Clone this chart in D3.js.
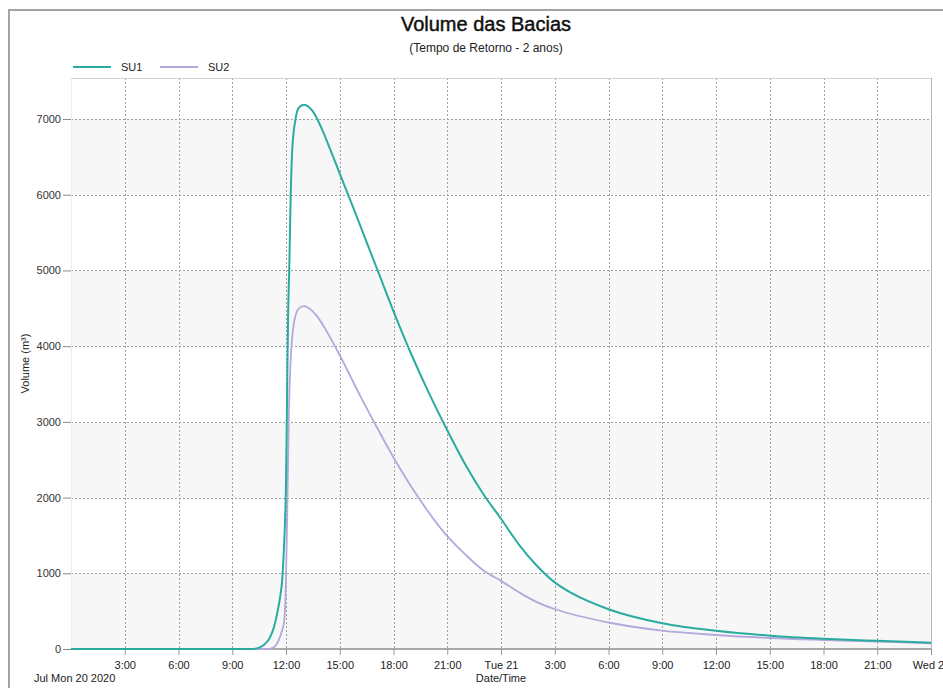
<!DOCTYPE html>
<html>
<head>
<meta charset="utf-8">
<script src="https://cdn.jsdelivr.net/npm/d3@7.9.0/dist/d3.min.js"></script>
<style>
  html, body { margin: 0; padding: 0; background: #fff; overflow: hidden; }
  svg { display: block; font-family: "Liberation Sans", Arial, sans-serif; }
</style>
</head>
<body>
<svg id="chart" width="943" height="688"></svg>
<script>
// hours since Mon 20 Jul 2020 00:00 -> volume (m3)
const su1 = [
  [0, 0], [10.0, 0], [10.3, 5], [10.6, 28], [10.86, 75], [11.1, 150], [11.33, 290],
  [11.5, 460], [11.66, 670], [11.79, 920], [11.88, 1300], [11.94, 1650], [12.0, 2200],
  [12.04, 2900], [12.07, 3550], [12.12, 4440], [12.18, 5000], [12.25, 5860],
  [12.35, 6600], [12.54, 7010], [12.72, 7150], [13.0, 7190], [13.5, 7100],
  [14.0, 6870], [14.5, 6580], [15.0, 6280], [16.0, 5680], [17.0, 5070], [18.0, 4460],
  [19.0, 3890], [20.0, 3370], [21.0, 2890], [22.0, 2440], [23.0, 2050], [24.0, 1720],
  [25.0, 1380], [26.0, 1100], [27.0, 880], [28.0, 730], [30.0, 525], [33.0, 340],
  [36.0, 240], [39.0, 176], [42.0, 136], [45.0, 108], [48.0, 84]
];
const su2 = [
  [0, 0], [11.0, 0], [11.3, 20], [11.6, 120], [11.8, 260], [11.88, 340], [11.97, 650],
  [12.03, 1310], [12.07, 1790], [12.16, 3110], [12.25, 3770], [12.44, 4300],
  [12.72, 4500], [13.0, 4530], [13.4, 4480], [13.75, 4390], [14.5, 4100], [15.0, 3880],
  [16.17, 3330], [16.91, 3000], [18.0, 2530], [19.42, 1990], [21.0, 1490], [22.0, 1250],
  [23.0, 1040], [24.0, 900], [25.1, 735], [26.0, 620], [27.0, 528], [30.0, 350],
  [33.0, 243], [36.0, 185], [39.0, 145], [42.0, 119], [45.0, 97], [48.0, 76]
];
const seriesNames = ['SU1', 'SU2'];
const seriesColors = ['#2aab9f', '#b3a9dc'];
const yTicks = [0, 1000, 2000, 3000, 4000, 5000, 6000, 7000];

const start = new Date(2020, 6, 20, 0, 0);
const end = new Date(2020, 6, 22, 0, 0);
const toDate = h => new Date(start.getTime() + h * 3600e3);

const svg = d3.select('#chart');
const plotLeft = 71, plotRight = 931, plotTop = 78, plotBottom = 649;

let x = d3.scaleTime().domain([start, end]).range([plotLeft, plotRight]);
let y = d3.scaleLinear().domain([0, 7542]).range([plotBottom, plotTop]);

// outer frame
svg.append('path')
  .attr('d', `M9,688 V10 H943`)
  .attr('fill', 'none')
  .attr('stroke', '#a3a3a3')
  .attr('stroke-width', 2);

// title
svg.append('text')
  .attr('x', 486).attr('y', 31)
  .attr('text-anchor', 'middle')
  .attr('font-size', 20)
  .attr('fill', '#111')
  .attr('stroke', '#111').attr('stroke-width', 0.45)
  .text('Volume das Bacias');
svg.append('text')
  .attr('x', 486).attr('y', 52)
  .attr('text-anchor', 'middle')
  .attr('font-size', 12)
  .attr('fill', '#222')
  .text('(Tempo de Retorno - 2 anos)');

// legend
let legend = svg.append('g');
seriesNames.forEach((name, i) => {
  let lx = 73 + i * 87;
  legend.append('line')
    .attr('x1', lx).attr('x2', lx + 38)
    .attr('y1', 67).attr('y2', 67)
    .attr('stroke', seriesColors[i]).attr('stroke-width', 2);
  legend.append('text')
    .attr('x', lx + 48).attr('y', 71)
    .attr('font-size', 11).attr('fill', '#222')
    .text(name);
});

// alternating bands
let bands = svg.append('g');
[0, 2000, 4000, 6000].forEach(v => {
  bands.append('rect')
    .attr('x', plotLeft).attr('width', plotRight - plotLeft)
    .attr('y', y(v + 1000)).attr('height', y(v) - y(v + 1000))
    .attr('fill', '#f7f7f7');
});

// grid
let grid = svg.append('g')
  .attr('stroke', '#a0a0a0')
  .attr('stroke-dasharray', '2,2')
  .attr('stroke-width', 1);
let xTicks = x.ticks(d3.timeHour.every(3)).filter(d => d > start && d < end);
xTicks.forEach(d => {
  let px = Math.round(x(d)) + 0.5;
  grid.append('line').attr('x1', px).attr('x2', px).attr('y1', plotTop).attr('y2', plotBottom);
});
yTicks.filter(v => v > 0).forEach(v => {
  let py = Math.round(y(v)) + 0.5;
  grid.append('line').attr('x1', plotLeft).attr('x2', plotRight).attr('y1', py).attr('y2', py);
});

// plot edges
svg.append('line')
  .attr('x1', plotLeft).attr('x2', plotRight).attr('y1', plotTop + 0.5).attr('y2', plotTop + 0.5)
  .attr('stroke', '#d0d0d0');
svg.append('line')
  .attr('x1', plotRight + 0.5).attr('x2', plotRight + 0.5).attr('y1', plotTop).attr('y2', plotBottom)
  .attr('stroke', '#b8b8b8');
svg.append('line')
  .attr('x1', plotLeft + 0.5).attr('x2', plotLeft + 0.5).attr('y1', plotTop).attr('y2', plotBottom)
  .attr('stroke', '#ececec');

// y axis
let yAxis = svg.append('g')
  .attr('transform', `translate(${plotLeft},0)`)
  .call(d3.axisLeft(y).tickValues(yTicks).tickSize(8).tickPadding(2).tickFormat(d3.format('d')));
yAxis.select('.domain').remove();
yAxis.selectAll('.tick line').attr('stroke', '#888');
yAxis.selectAll('.tick text')
  .attr('font-size', 11).attr('fill', '#333')
  .attr('font-family', '"Liberation Sans", Arial, sans-serif');

svg.append('text')
  .attr('transform', `translate(29,${(plotTop + plotBottom) / 2}) rotate(-90)`)
  .attr('text-anchor', 'middle')
  .attr('font-size', 11).attr('fill', '#222')
  .text('Volume (m³)');

// x axis
let fmt = d => d.getHours() === 0 ? d3.timeFormat('%a %d')(d) : d3.timeFormat('%-H:%M')(d);
let xAxis = svg.append('g')
  .attr('transform', `translate(0,${plotBottom})`)
  .call(d3.axisBottom(x).tickValues(x.ticks(d3.timeHour.every(3)).filter(d => d > start))
    .tickSize(6).tickPadding(6).tickFormat(fmt));
xAxis.select('.domain')
  .attr('d', `M${plotLeft},0H${plotRight + 1}`)
  .attr('stroke', '#a8a8a8').attr('stroke-width', 2);
xAxis.selectAll('.tick line').attr('stroke', '#999');
xAxis.selectAll('.tick text')
  .attr('font-size', 11).attr('fill', '#222')
  .attr('font-family', '"Liberation Sans", Arial, sans-serif');

svg.append('text')
  .attr('x', 34).attr('y', 682)
  .attr('font-size', 11).attr('fill', '#222')
  .text('Jul Mon 20 2020');
svg.append('text')
  .attr('x', (plotLeft + plotRight) / 2).attr('y', 682)
  .attr('text-anchor', 'middle')
  .attr('font-size', 11).attr('fill', '#222')
  .text('Date/Time');

// series
let line = d3.line()
  .x(d => x(toDate(d[0])))
  .y(d => y(d[1]))
  .curve(d3.curveMonotoneX);

[su2, su1].forEach((data, k) => {
  let i = k === 0 ? 1 : 0;
  svg.append('path')
    .datum(data)
    .attr('d', line)
    .attr('fill', 'none')
    .attr('stroke', seriesColors[i])
    .attr('stroke-width', i === 0 ? 2 : 1.8);
});
</script>
</body>
</html>
